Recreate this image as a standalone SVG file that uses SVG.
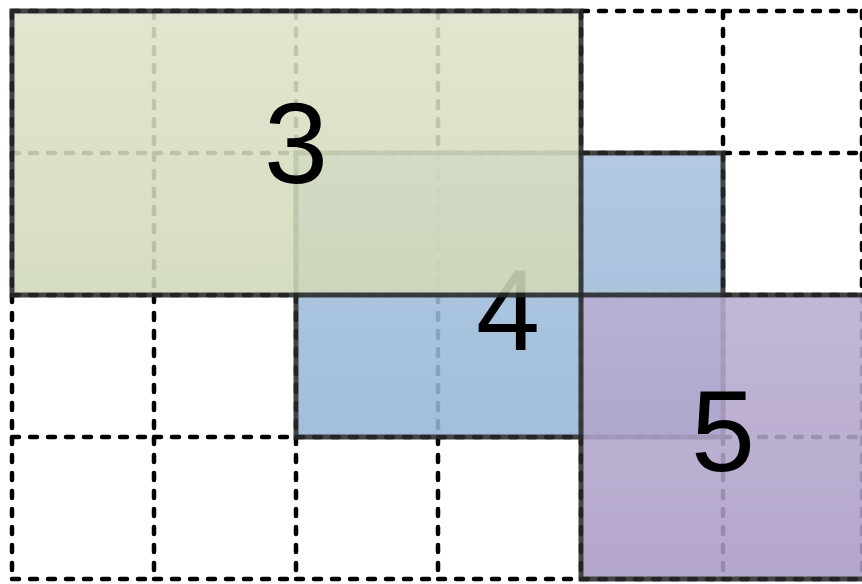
<svg xmlns="http://www.w3.org/2000/svg" width="862" height="584" viewBox="0 0 862 584">
  <defs>
    <linearGradient id="gGreen" x1="0" y1="0" x2="0" y2="1">
      <stop offset="0" stop-color="#dfe3ca"/>
      <stop offset="1" stop-color="#d0d9b8"/>
    </linearGradient>
    <linearGradient id="gBlue" x1="0" y1="0" x2="0" y2="1">
      <stop offset="0" stop-color="#a8c2dd"/>
      <stop offset="1" stop-color="#96b6d7"/>
    </linearGradient>
    <linearGradient id="gPurple" x1="0" y1="0" x2="0" y2="1">
      <stop offset="0" stop-color="#bbaed3"/>
      <stop offset="1" stop-color="#aa9bc5"/>
    </linearGradient>
  </defs>
  <style>
    .grid { fill: none; stroke: #000; stroke-width: 4.5; stroke-dasharray: 7 11; stroke-linecap: round; }
    .box { opacity: 0.88; }
    .box rect { stroke: #2a2a2a; stroke-width: 5; }
    .lbl { font-family: "Liberation Sans", Arial, sans-serif; font-size: 115px; fill: #000; text-anchor: middle; }
  </style>
  <rect width="862" height="584" fill="#fff"/>
  <g id="grid">
    <path class="grid" d="
      M12,11 L154,11 M154,11 L296,11 M296,11 L438,11 M438,11 L581,11 M581,11 L723,11 M723,11 L862,11
      M12,153 L154,153 M154,153 L296,153 M296,153 L438,153 M438,153 L581,153 M581,153 L723,153 M723,153 L862,153
      M12,295 L154,295 M154,295 L296,295 M296,295 L438,295 M438,295 L581,295 M581,295 L723,295 M723,295 L862,295
      M12,437 L154,437 M154,437 L296,437 M296,437 L438,437 M438,437 L581,437 M581,437 L723,437 M723,437 L862,437
      M12,579 L154,579 M154,579 L296,579 M296,579 L438,579 M438,579 L581,579 M581,579 L723,579 M723,579 L862,579
      M12,11 L12,153 M12,153 L12,295 M12,295 L12,437 M12,437 L12,579
      M154,11 L154,153 M154,153 L154,295 M154,295 L154,437 M154,437 L154,579
      M296,11 L296,153 M296,153 L296,295 M296,295 L296,437 M296,437 L296,579
      M438,11 L438,153 M438,153 L438,295 M438,295 L438,437 M438,437 L438,579
      M581,11 L581,153 M581,153 L581,295 M581,295 L581,437 M581,437 L581,579
      M723,11 L723,153 M723,153 L723,295 M723,295 L723,437 M723,437 L723,579
      M862,11 L862,153 M862,153 L862,295 M862,295 L862,437 M862,437 L862,579"/>
  </g>
  <g id="node4">
    <g class="box"><rect x="296" y="153" width="427" height="284" fill="url(#gBlue)"/></g>
    <text class="lbl" x="508" y="350">4</text>
  </g>
  <g id="node5">
    <g class="box"><rect x="581" y="295" width="300" height="284" fill="url(#gPurple)"/></g>
    <text class="lbl" x="723" y="471">5</text>
  </g>
  <g id="node3">
    <g class="box"><rect x="12" y="11" width="569" height="284" fill="url(#gGreen)"/></g>
    <text class="lbl" x="296" y="183">3</text>
  </g>
  <g id="connectors"/>
</svg>
